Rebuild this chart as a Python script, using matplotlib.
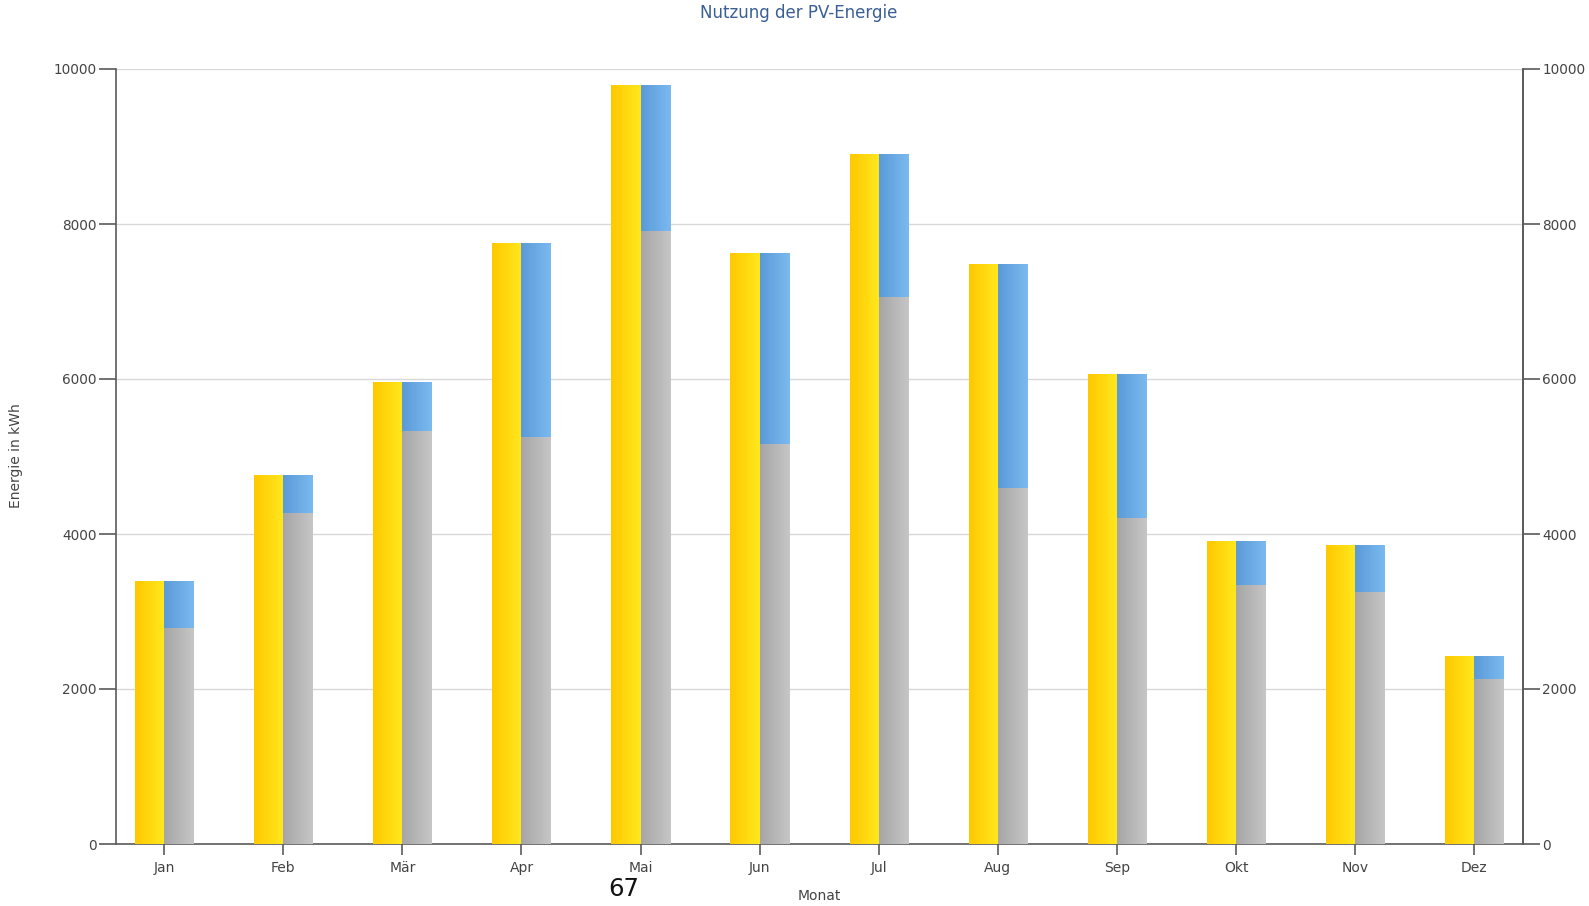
import numpy as np
import matplotlib
matplotlib.use("Agg")
import matplotlib.pyplot as plt
from matplotlib.colors import LinearSegmentedColormap

# Monthly PV energy (kWh)
monate = ["Jan", "Feb", "Mär", "Apr", "Mai", "Jun", "Jul", "Aug", "Sep", "Okt", "Nov", "Dez"]
erzeugung = [3400, 4760, 5960, 7750, 9800, 7620, 8900, 7490, 6070, 3910, 3860, 2430]
eigenverbrauch = [2790, 4270, 5330, 5250, 7910, 5160, 7060, 4590, 4210, 3340, 3250, 2130]
einspeisung = [610, 490, 630, 2500, 1890, 2460, 1840, 2900, 1860, 570, 610, 300]
y_ticks = [0, 2000, 4000, 6000, 8000, 10000]

W, H = 1589, 906
fig = plt.figure(figsize=(W / 100, H / 100), dpi=100)
fig.patch.set_facecolor("white")

ax_l, ax_r, ax_b, ax_t = 116, 1523, 844, 69
ax = fig.add_axes([ax_l / W, 1 - ax_b / H, (ax_r - ax_l) / W, (ax_b - ax_t) / H])

x = np.arange(len(monate))
bw = 0.245

grad_yellow = LinearSegmentedColormap.from_list("gy", ["#FFC800", "#FFE81E"])
grad_gray = LinearSegmentedColormap.from_list("gg", ["#A6A6A6", "#C6C6C6"])
grad_blue = LinearSegmentedColormap.from_list("gb", ["#5A9AD8", "#7BBAF0"])
ramp = np.linspace(0, 1, 64).reshape(1, -1)


def gradient_bars(xpos, heights, bottom, cmap):
    bars = ax.bar(xpos, heights, width=bw, bottom=bottom, align="edge",
                  facecolor="none", edgecolor="none", zorder=3)
    for rect in bars:
        x0, y0 = rect.get_x(), rect.get_y()
        im = ax.imshow(ramp, cmap=cmap, aspect="auto",
                       extent=[x0, x0 + rect.get_width(), y0, y0 + rect.get_height()],
                       zorder=3, interpolation="bilinear")
        im.set_clip_path(rect)
    return bars


gradient_bars(x - bw, erzeugung, 0, grad_yellow)
gradient_bars(x, eigenverbrauch, 0, grad_gray)
gradient_bars(x, einspeisung, eigenverbrauch, grad_blue)

ax.set_xlim(-0.405, len(monate) - 1 + 0.41)
ax.set_ylim(0, 10000)
ax.set_yticks(y_ticks)
ax.set_yticklabels([str(v) for v in y_ticks])
ax.set_xticks(x)
ax.set_xticklabels(monate)
ax.grid(axis="y", color="#D8D8D8", linewidth=1.0, zorder=0)
ax.set_axisbelow(True)

spine_c = "#5A5A5A"
ax.spines["top"].set_visible(False)
for s in ["left", "bottom", "right"]:
    ax.spines[s].set_color(spine_c)
    ax.spines[s].set_linewidth(1.2)

ax.tick_params(axis="y", direction="out", length=12, width=1.2, color=spine_c,
               labelcolor="#444444", labelsize=9.8, pad=2)
ax.tick_params(axis="x", direction="out", length=8, width=1.2, color=spine_c,
               labelcolor="#444444", labelsize=10, pad=4)

ax2 = ax.twinx()
ax2.set_ylim(ax.get_ylim())
ax2.set_yticks(y_ticks)
ax2.set_yticklabels([str(v) for v in y_ticks])
for s in ["top", "left", "bottom"]:
    ax2.spines[s].set_visible(False)
ax2.spines["right"].set_color(spine_c)
ax2.spines["right"].set_linewidth(1.2)
ax2.tick_params(axis="y", direction="out", length=12, width=1.2, color=spine_c,
                labelcolor="#444444", labelsize=9.8, pad=2)

fig.text(799 / W, 1 - 13 / H, "Nutzung der PV-Energie", ha="center", va="center",
         fontsize=12, color="#3A5F95")
fig.text(16 / W, 1 - 456 / H, "Energie in kWh", ha="center", va="center",
         rotation=90, fontsize=10, color="#444444")
fig.text(819 / W, 1 - 896 / H, "Monat", ha="center", va="center",
         fontsize=10, color="#444444")
fig.text(624 / W, 1 - 889 / H, "67", ha="center", va="center",
         fontsize=17.5, color="#111111")

fig.savefig("out.png", dpi=100, facecolor="white")
